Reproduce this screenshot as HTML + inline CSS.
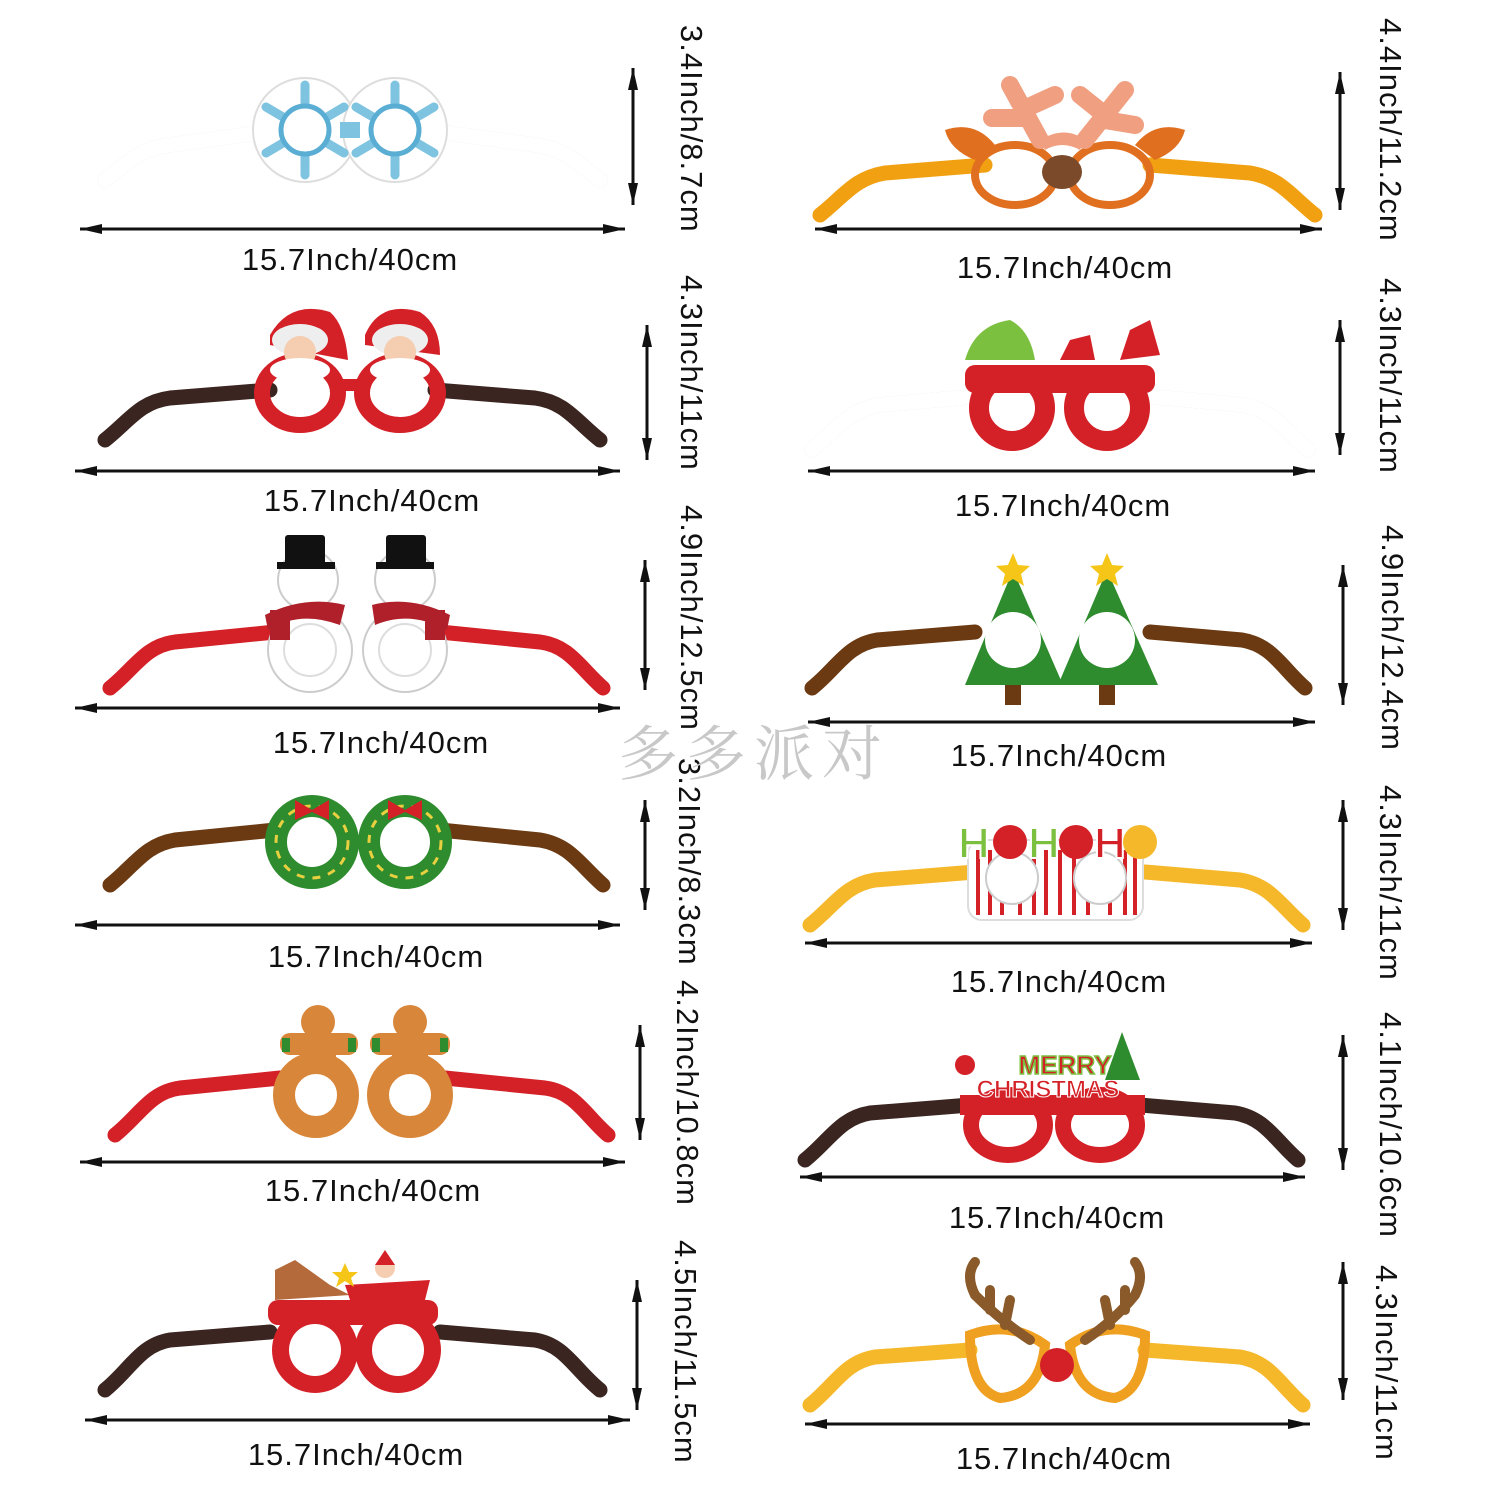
<!DOCTYPE html>
<html><head><meta charset="utf-8"><style>
html,body{margin:0;padding:0;background:#fff;width:1500px;height:1500px;overflow:hidden}
svg{display:block}
.lbl{font-family:"Liberation Sans",sans-serif;font-size:31px;fill:#111;text-anchor:middle;letter-spacing:1px}
.vl{font-family:"Liberation Sans",sans-serif;font-size:31px;fill:#111;letter-spacing:1px}
.ar{stroke:#111;stroke-width:3}
.t{fill:none;stroke-width:15;stroke-linecap:round;stroke-linejoin:round}
</style></head><body>
<svg width="1500" height="1500" viewBox="0 0 1500 1500" xmlns="http://www.w3.org/2000/svg">
<defs>
<g id="ha"><polygon points="0,0 22,-5 22,5" fill="#111"/></g>
<g id="va"><polygon points="0,0 -5,22 5,22" fill="#111"/></g>
</defs>

<g class="ar">
<line x1="80" y1="229" x2="625" y2="229"/>
<line x1="75" y1="471" x2="620" y2="471"/>
<line x1="75" y1="708" x2="620" y2="708"/>
<line x1="75" y1="925" x2="620" y2="925"/>
<line x1="80" y1="1162" x2="625" y2="1162"/>
<line x1="85" y1="1420" x2="630" y2="1420"/>
<line x1="815" y1="229" x2="1322" y2="229"/>
<line x1="808" y1="471" x2="1315" y2="471"/>
<line x1="808" y1="722" x2="1315" y2="722"/>
<line x1="805" y1="943" x2="1312" y2="943"/>
<line x1="800" y1="1177" x2="1305" y2="1177"/>
<line x1="805" y1="1424" x2="1310" y2="1424"/>
<line x1="633" y1="68" x2="633" y2="205"/>
<line x1="647" y1="325" x2="647" y2="460"/>
<line x1="645" y1="560" x2="645" y2="690"/>
<line x1="645" y1="800" x2="645" y2="910"/>
<line x1="640" y1="1025" x2="640" y2="1140"/>
<line x1="637" y1="1280" x2="637" y2="1410"/>
<line x1="1340" y1="72" x2="1340" y2="210"/>
<line x1="1340" y1="320" x2="1340" y2="455"/>
<line x1="1343" y1="565" x2="1343" y2="705"/>
<line x1="1343" y1="800" x2="1343" y2="930"/>
<line x1="1343" y1="1035" x2="1343" y2="1170"/>
<line x1="1343" y1="1262" x2="1343" y2="1400"/>
</g>
<g>
<use href="#ha" x="80" y="229"/><use href="#ha" transform="translate(625,229) scale(-1,1)"/>
<use href="#ha" x="75" y="471"/><use href="#ha" transform="translate(620,471) scale(-1,1)"/>
<use href="#ha" x="75" y="708"/><use href="#ha" transform="translate(620,708) scale(-1,1)"/>
<use href="#ha" x="75" y="925"/><use href="#ha" transform="translate(620,925) scale(-1,1)"/>
<use href="#ha" x="80" y="1162"/><use href="#ha" transform="translate(625,1162) scale(-1,1)"/>
<use href="#ha" x="85" y="1420"/><use href="#ha" transform="translate(630,1420) scale(-1,1)"/>
<use href="#ha" x="815" y="229"/><use href="#ha" transform="translate(1322,229) scale(-1,1)"/>
<use href="#ha" x="808" y="471"/><use href="#ha" transform="translate(1315,471) scale(-1,1)"/>
<use href="#ha" x="808" y="722"/><use href="#ha" transform="translate(1315,722) scale(-1,1)"/>
<use href="#ha" x="805" y="943"/><use href="#ha" transform="translate(1312,943) scale(-1,1)"/>
<use href="#ha" x="800" y="1177"/><use href="#ha" transform="translate(1305,1177) scale(-1,1)"/>
<use href="#ha" x="805" y="1424"/><use href="#ha" transform="translate(1310,1424) scale(-1,1)"/>
<use href="#va" x="633" y="68"/><use href="#va" transform="translate(633,205) scale(1,-1)"/>
<use href="#va" x="647" y="325"/><use href="#va" transform="translate(647,460) scale(1,-1)"/>
<use href="#va" x="645" y="560"/><use href="#va" transform="translate(645,690) scale(1,-1)"/>
<use href="#va" x="645" y="800"/><use href="#va" transform="translate(645,910) scale(1,-1)"/>
<use href="#va" x="640" y="1025"/><use href="#va" transform="translate(640,1140) scale(1,-1)"/>
<use href="#va" x="637" y="1280"/><use href="#va" transform="translate(637,1410) scale(1,-1)"/>
<use href="#va" x="1340" y="72"/><use href="#va" transform="translate(1340,210) scale(1,-1)"/>
<use href="#va" x="1340" y="320"/><use href="#va" transform="translate(1340,455) scale(1,-1)"/>
<use href="#va" x="1343" y="565"/><use href="#va" transform="translate(1343,705) scale(1,-1)"/>
<use href="#va" x="1343" y="800"/><use href="#va" transform="translate(1343,930) scale(1,-1)"/>
<use href="#va" x="1343" y="1035"/><use href="#va" transform="translate(1343,1170) scale(1,-1)"/>
<use href="#va" x="1343" y="1262"/><use href="#va" transform="translate(1343,1400) scale(1,-1)"/>
</g>

<text class="lbl" x="350" y="270">15.7Inch/40cm</text>
<text class="lbl" x="372" y="511">15.7Inch/40cm</text>
<text class="lbl" x="381" y="753">15.7Inch/40cm</text>
<text class="lbl" x="376" y="967">15.7Inch/40cm</text>
<text class="lbl" x="373" y="1201">15.7Inch/40cm</text>
<text class="lbl" x="356" y="1465">15.7Inch/40cm</text>
<text class="lbl" x="1065" y="278">15.7Inch/40cm</text>
<text class="lbl" x="1063" y="516">15.7Inch/40cm</text>
<text class="lbl" x="1059" y="766">15.7Inch/40cm</text>
<text class="lbl" x="1059" y="992">15.7Inch/40cm</text>
<text class="lbl" x="1057" y="1228">15.7Inch/40cm</text>
<text class="lbl" x="1064" y="1469">15.7Inch/40cm</text>

<text class="vl" transform="translate(681,25) rotate(90)">3.4Inch/8.7cm</text>
<text class="vl" transform="translate(681,275) rotate(90)">4.3Inch/11cm</text>
<text class="vl" transform="translate(681,505) rotate(90)">4.9Inch/12.5cm</text>
<text class="vl" transform="translate(679,758) rotate(90)">3.2Inch/8.3cm</text>
<text class="vl" transform="translate(677,980) rotate(90)">4.2Inch/10.8cm</text>
<text class="vl" transform="translate(675,1240) rotate(90)">4.5Inch/11.5cm</text>
<text class="vl" transform="translate(1380,18) rotate(90)">4.4Inch/11.2cm</text>
<text class="vl" transform="translate(1380,278) rotate(90)">4.3Inch/11cm</text>
<text class="vl" transform="translate(1382,525) rotate(90)">4.9Inch/12.4cm</text>
<text class="vl" transform="translate(1380,785) rotate(90)">4.3Inch/11cm</text>
<text class="vl" transform="translate(1380,1012) rotate(90)">4.1Inch/10.6cm</text>
<text class="vl" transform="translate(1376,1265) rotate(90)">4.3Inch/11cm</text>

<text x="618" y="775" font-family="'Noto Serif CJK SC','WenQuanYi Zen Hei',serif" font-size="60" fill="#c8c8c8" letter-spacing="8">多多派对</text>

<!-- L1 snowflake -->
<path class="t" stroke="#d0d0d0" stroke-width="15" d="M105,180 C125,165 140,148 170,145 L265,132 M600,180 C580,165 565,148 535,145 L440,132"/>
<path class="t" stroke="#fff" stroke-width="11" d="M105,180 C125,165 140,148 170,145 L265,132 M600,180 C580,165 565,148 535,145 L440,132"/>
<g fill="#fff" stroke="#ddd" stroke-width="2"><circle cx="305" cy="130" r="52"/><circle cx="395" cy="130" r="52"/></g>
<g stroke="#7ec3e0" stroke-width="9" stroke-linecap="round">
<path d="M305,85 V175 M266,107 L344,153 M266,153 L344,107"/>
<path d="M395,85 V175 M356,107 L434,153 M356,153 L434,107"/>
</g>
<g fill="#fff" stroke="#5aaed4" stroke-width="5"><circle cx="305" cy="130" r="24"/><circle cx="395" cy="130" r="24"/></g>
<rect x="340" y="122" width="20" height="16" fill="#7ec3e0"/>

<!-- L2 santa -->
<path class="t" stroke="#3a2520" d="M105,440 C130,420 140,402 170,398 L270,390 M600,440 C575,420 565,402 535,398 L435,390"/>
<g fill="none" stroke="#d42027" stroke-width="16"><ellipse cx="300" cy="393" rx="38" ry="32"/><ellipse cx="400" cy="393" rx="38" ry="32"/></g>
<path d="M335,385 H365" stroke="#d42027" stroke-width="12"/>
<path d="M270,335 Q290,300 330,312 Q345,325 348,360 L270,345 Z" fill="#d42027"/>
<path d="M365,335 Q380,300 420,312 Q440,325 440,355 L365,345 Z" fill="#d42027"/>
<ellipse cx="300" cy="340" rx="28" ry="16" fill="#eee"/>
<ellipse cx="400" cy="340" rx="28" ry="16" fill="#eee"/>
<circle cx="300" cy="352" r="16" fill="#f5cdb0"/><circle cx="400" cy="352" r="16" fill="#f5cdb0"/>
<ellipse cx="300" cy="370" rx="30" ry="12" fill="#fff"/><ellipse cx="400" cy="370" rx="30" ry="12" fill="#fff"/>

<!-- L3 snowman -->
<path class="t" stroke="#d42027" d="M110,688 C135,668 145,646 175,642 L275,632 M603,688 C580,668 570,646 540,642 L440,632"/>
<g fill="#fff" stroke="#ccc" stroke-width="2"><circle cx="310" cy="650" r="42"/><circle cx="405" cy="650" r="42"/></g>
<g fill="#fff" stroke="#ddd" stroke-width="2"><circle cx="310" cy="650" r="26"/><circle cx="405" cy="650" r="26"/></g>
<g fill="#fff" stroke="#ccc" stroke-width="2"><circle cx="308" cy="580" r="30"/><circle cx="405" cy="580" r="30"/></g>
<g fill="#111"><rect x="285" y="535" width="40" height="30" rx="3"/><rect x="277" y="562" width="58" height="7"/><rect x="386" y="535" width="40" height="30" rx="3"/><rect x="376" y="562" width="58" height="7"/></g>
<g fill="#b0202a"><path d="M265,615 Q305,595 345,605 L340,625 Q300,610 268,630 Z"/><path d="M372,605 Q410,595 450,615 L447,630 Q410,610 375,625 Z"/><rect x="270" y="610" width="20" height="30"/><rect x="425" y="610" width="20" height="30"/></g>

<!-- L4 wreath -->
<path class="t" stroke="#6b3a12" d="M110,885 C135,865 145,845 175,840 L275,830 M603,885 C580,865 570,845 540,840 L440,830"/>
<g fill="none" stroke="#2e8b2e" stroke-width="22"><circle cx="312" cy="842" r="36"/><circle cx="405" cy="842" r="36"/></g>
<g fill="none" stroke="#e8d040" stroke-width="3" stroke-dasharray="8 8"><circle cx="312" cy="842" r="36"/><circle cx="405" cy="842" r="36"/></g>
<g fill="#d42027"><path d="M295,800 L312,810 L329,800 L329,820 L312,812 L295,820 Z"/><path d="M388,800 L405,810 L422,800 L422,820 L405,812 L388,820 Z"/></g>

<!-- L5 gingerbread -->
<path class="t" stroke="#d42027" d="M115,1135 C140,1115 150,1092 180,1088 L280,1078 M608,1135 C585,1115 575,1092 545,1088 L445,1078"/>
<g fill="none" stroke="#d8873a" stroke-width="22"><circle cx="316" cy="1095" r="32"/><circle cx="410" cy="1095" r="32"/></g>
<g fill="#d8873a"><circle cx="318" cy="1022" r="17"/><circle cx="410" cy="1022" r="17"/><rect x="280" y="1033" width="78" height="22" rx="10"/><rect x="370" y="1033" width="80" height="22" rx="10"/><rect x="300" y="1035" width="36" height="30"/><rect x="392" y="1035" width="36" height="30"/></g>
<g fill="#2e8b2e"><rect x="282" y="1038" width="8" height="14"/><rect x="348" y="1038" width="8" height="14"/><rect x="372" y="1038" width="8" height="14"/><rect x="440" y="1038" width="8" height="14"/></g>

<!-- L6 sleigh -->
<path class="t" stroke="#3a2520" d="M105,1390 C130,1370 140,1345 170,1340 L270,1332 M600,1390 C575,1370 565,1345 535,1340 L440,1332"/>
<g fill="#d42027"><circle cx="315" cy="1350" r="43"/><circle cx="398" cy="1350" r="43"/><rect x="268" y="1300" width="170" height="25" rx="10"/></g>
<g fill="#fff"><circle cx="315" cy="1350" r="26"/><circle cx="398" cy="1350" r="26"/></g>
<path d="M275,1270 L295,1260 L330,1285 L350,1295 L275,1300 Z" fill="#b46a3a"/>
<path d="M345,1285 L430,1280 L425,1300 L350,1300 Z" fill="#d42027"/>
<circle cx="385" cy="1268" r="10" fill="#f5cdb0"/><path d="M375,1265 L385,1250 L395,1265 Z" fill="#d42027"/>
<polygon points="345,1263 349,1272 358,1272 351,1278 354,1287 345,1281 336,1287 339,1278 332,1272 341,1272" fill="#f5c518"/>

<!-- R1 reindeer -->
<path class="t" stroke="#f0a010" d="M820,215 C845,195 855,178 885,173 L985,165 M1315,215 C1290,195 1280,178 1250,173 L1150,165"/>
<g fill="none" stroke="#e07020" stroke-width="8"><ellipse cx="1015" cy="175" rx="40" ry="30"/><ellipse cx="1110" cy="175" rx="40" ry="30"/></g>
<path d="M945,130 Q975,120 995,145 L975,160 Q950,150 945,130 Z" fill="#e07020"/>
<path d="M1185,130 Q1155,120 1135,145 L1155,160 Q1180,150 1185,130 Z" fill="#e07020"/>
<g stroke="#f0a080" stroke-width="18" stroke-linecap="round" fill="none">
<path d="M1040,140 L1010,85 M1022,110 L1055,95 M1022,118 L992,118"/>
<path d="M1085,140 L1125,90 M1105,115 L1080,95 M1105,120 L1135,125"/>
</g>
<path d="M1040,140 Q1065,125 1085,140 L1080,150 Q1062,140 1045,150 Z" fill="#f0a080"/>
<ellipse cx="1062" cy="172" rx="20" ry="17" fill="#7a4a2a"/>

<!-- R2 elf -->
<path class="t" stroke="#d0d0d0" stroke-width="15" d="M812,450 C835,430 848,410 880,405 L980,396 M1308,450 C1285,430 1273,410 1243,405 L1145,396"/>
<path class="t" stroke="#fff" stroke-width="11" d="M812,450 C835,430 848,410 880,405 L980,396 M1308,450 C1285,430 1273,410 1243,405 L1145,396"/>
<g fill="none" stroke="#d42027" stroke-width="20"><circle cx="1012" cy="408" r="33"/><circle cx="1107" cy="408" r="33"/></g>
<rect x="965" y="365" width="190" height="28" rx="10" fill="#d42027"/>
<path d="M965,360 Q975,325 1010,320 Q1030,330 1035,360 Z" fill="#7cc040"/>
<path d="M1060,360 L1070,340 L1090,335 L1095,360 Z" fill="#d42027"/>
<path d="M1120,360 L1130,330 L1150,320 L1160,355 Z" fill="#d42027"/>

<!-- R3 trees -->
<path class="t" stroke="#6b3a12" d="M812,688 C837,668 847,645 877,640 L975,632 M1305,688 C1282,668 1272,645 1242,640 L1150,632"/>
<g fill="#2e8b2e"><polygon points="1013,570 965,685 1063,685"/><polygon points="1107,570 1058,685 1158,685"/></g>
<g fill="#6b3a12"><rect x="1005" y="685" width="16" height="20"/><rect x="1099" y="685" width="16" height="20"/></g>
<g fill="#fff"><circle cx="1013" cy="640" r="28"/><circle cx="1107" cy="640" r="28"/></g>
<g fill="#f5c518"><polygon points="1013,553 1018,565 1030,566 1021,574 1024,586 1013,579 1002,586 1005,574 996,566 1008,565"/><polygon points="1107,553 1112,565 1124,566 1115,574 1118,586 1107,579 1096,586 1099,574 1090,566 1102,565"/></g>

<!-- R4 HOHO -->
<path class="t" stroke="#f5b82a" d="M810,925 C835,905 845,885 875,880 L975,872 M1303,925 C1280,905 1270,885 1240,880 L1145,872"/>
<rect x="968" y="840" width="175" height="80" rx="14" fill="#fff" stroke="#ddd" stroke-width="2"/>
<g stroke="#d42027" stroke-width="4"><path d="M978,850 V915 M990,850 V915 M1002,895 V915 M1020,895 V915 M1034,850 V915 M1046,850 V915 M1060,850 V915 M1074,850 V915 M1088,895 V915 M1110,895 V915 M1125,850 V915 M1135,850 V915"/></g>
<g fill="#fff" stroke="#ccc" stroke-width="2"><circle cx="1012" cy="878" r="26"/><circle cx="1100" cy="878" r="26"/></g>
<text x="958" y="858" font-family="'Liberation Sans',sans-serif" font-weight="bold" font-size="44" fill="#7cc040" stroke="#fff" stroke-width="2">H</text>
<circle cx="1010" cy="842" r="17" fill="#d42027"/>
<text x="1028" y="858" font-family="'Liberation Sans',sans-serif" font-weight="bold" font-size="44" fill="#7cc040" stroke="#fff" stroke-width="2">H</text>
<circle cx="1076" cy="842" r="17" fill="#d42027"/>
<text x="1094" y="858" font-family="'Liberation Sans',sans-serif" font-weight="bold" font-size="44" fill="#d42027" stroke="#fff" stroke-width="2">H</text>
<circle cx="1140" cy="842" r="17" fill="#f5b82a"/>

<!-- R5 Merry -->
<path class="t" stroke="#3a2520" d="M805,1160 C830,1140 840,1118 870,1113 L970,1105 M1298,1160 C1275,1140 1265,1118 1235,1113 L1140,1105"/>
<g fill="none" stroke="#d42027" stroke-width="16"><ellipse cx="1008" cy="1125" rx="37" ry="30"/><ellipse cx="1100" cy="1125" rx="37" ry="30"/></g>
<rect x="960" y="1095" width="185" height="20" fill="#d42027"/>
<text x="1065" y="1074" text-anchor="middle" font-family="'Liberation Sans',sans-serif" font-weight="bold" font-size="26" fill="#d42027" stroke="#7cc040" stroke-width="1.5">MERRY</text>
<text x="1048" y="1097" text-anchor="middle" font-family="'Liberation Sans',sans-serif" font-weight="bold" font-size="24" fill="#d42027" stroke="#fff" stroke-width="1">CHRISTMAS</text>
<polygon points="1122,1032 1105,1080 1140,1080" fill="#2e8b2e"/>
<circle cx="965" cy="1065" r="10" fill="#d42027"/>

<!-- R6 antlers -->
<path class="t" stroke="#f5b82a" d="M810,1405 C835,1385 845,1362 875,1357 L970,1350 M1303,1405 C1280,1385 1270,1362 1240,1357 L1145,1350"/>
<g fill="none" stroke="#f0a020" stroke-width="10"><path d="M970,1335 Q1010,1320 1045,1345 Q1040,1395 1000,1398 Q970,1390 970,1335 Z"/><path d="M1145,1335 Q1105,1320 1070,1345 Q1075,1395 1115,1398 Q1145,1390 1145,1335 Z"/></g>
<g stroke="#8a5a2a" stroke-width="10" stroke-linecap="round" fill="none">
<path d="M1030,1340 Q1000,1320 975,1295 Q965,1275 975,1262 M990,1310 L990,1290 M1005,1325 L1010,1300"/>
<path d="M1085,1340 Q1115,1320 1135,1295 Q1145,1275 1135,1262 M1125,1310 L1125,1290 M1110,1325 L1105,1300"/>
</g>
<circle cx="1057" cy="1365" r="17" fill="#d42027"/>
</svg>
</body></html>
